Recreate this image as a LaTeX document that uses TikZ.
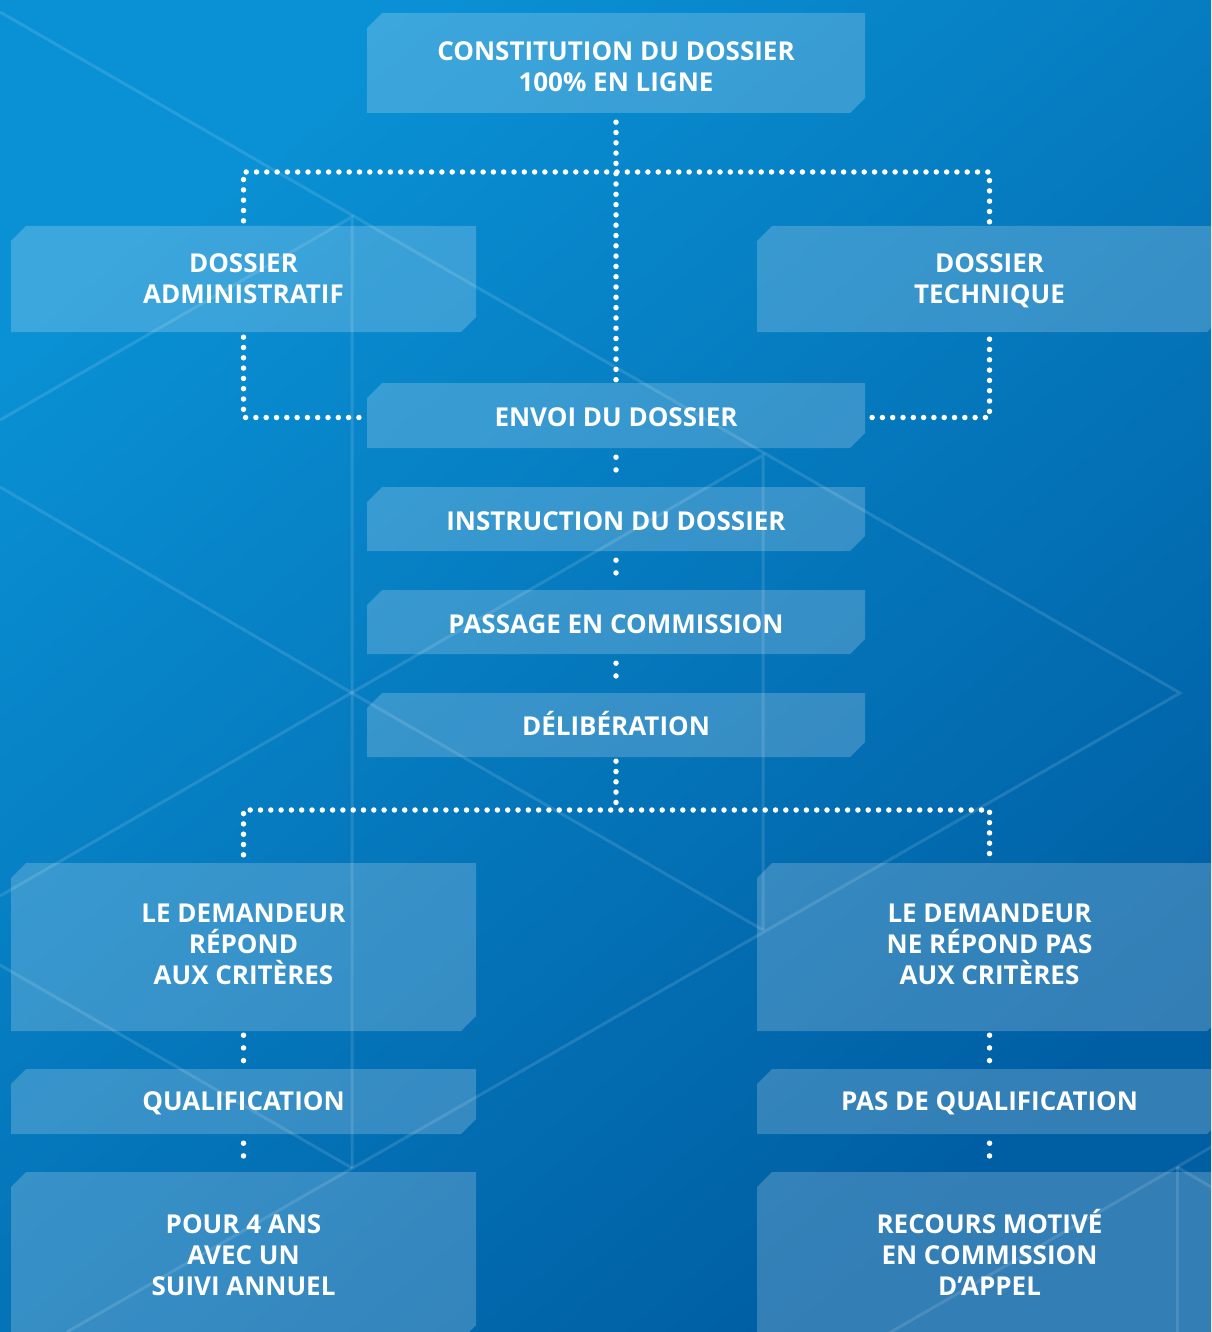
\documentclass[tikz,border=0pt]{standalone}
\usepackage{fontspec}
\setmainfont{Open Sans}
\usetikzlibrary{calc}
\definecolor{bgA}{HTML}{0A91D5}
\definecolor{bgB}{HTML}{005EA3}
\tikzset{
  boxfill/.style={fill=white, fill opacity=0.2},
  boxtext/.style={text=white, font=\bfseries\fontsize{26}{31}\selectfont, align=center, inner sep=0pt},
  dots/.style={draw=white, line width=5.5pt, line cap=round, dash pattern=on 0pt off 10.3pt, shorten <=5pt, shorten >=5pt},
  shortdots/.style={dots, dash pattern=on 0pt off 12.7pt, shorten <=7pt, shorten >=7pt},
  bgline/.style={draw=white, draw opacity=0.12, line width=3pt},
}
% #1 = vertical text shift (pt, positive = up), #2 name, #3-#6 x1 y1 x2 y2, #7 text
\newcommand\chbox[7][0]{%
  \fill[boxfill] ({#3+15},#4) -- (#5,#4) -- (#5,{#6-15}) -- ({#5-15},#6) -- (#3,#6) -- (#3,{#4+15}) -- cycle;
  \node[boxtext, minimum width={(#5-#3)*1pt}, minimum height={(#6-#4)*1pt}, yshift=#1pt] (#2) at ({(#3+#5)/2},{(#4+#6)/2}) {#7};
}
\begin{document}
\begin{tikzpicture}[x=1pt, y=-1pt]
\useasboundingbox (0,0) rectangle (1211,1332);
\clip (0,0) rectangle (1211,1332);
% background
\shade[top color=bgA, bottom color=bgB, shading angle=40] (0,0) rectangle (1211,1332);
% background wireframe
\draw[bgline] (0,12) -- (1180,693) -- (67,1332);
\draw[bgline] (0,420) -- (352,217) -- (352,1168);
\draw[bgline] (0,487) -- (352,693) -- (763,930);
\draw[bgline] (0,896) -- (763,455) -- (763,930);
\draw[bgline] (0,965) -- (352,1168);
\draw[bgline] (1230,1136) -- (1177,1167) -- (870,1344);
\draw[bgline] (1177,1167) -- (1230,1198);
\draw[bgline] (1177,1167) -- (1177,1340);
% boxes
\chbox[-4]{top}{367}{13}{865}{113}{CONSTITUTION DU DOSSIER\\100\% EN LIGNE}
\chbox{admin}{11}{226}{476}{332}{DOSSIER\\ADMINISTRATIF}
\chbox[-2]{tech}{757}{226}{1222}{332}{DOSSIER\\TECHNIQUE}
\chbox[-2]{envoi}{367}{383}{865}{448}{ENVOI DU DOSSIER}
\chbox[-2]{instr}{367}{487}{865}{551}{INSTRUCTION DU DOSSIER}
\chbox[-2]{pass}{367}{590}{865}{654}{PASSAGE EN COMMISSION}
\chbox[1]{delib}{367}{693}{865}{757}{DÉLIBÉRATION}
\chbox[3]{oui}{11}{863}{476}{1031}{LE DEMANDEUR\\RÉPOND\\AUX CRITÈRES}
\chbox[3]{non}{757}{863}{1222}{1031}{LE DEMANDEUR\\NE RÉPOND PAS\\AUX CRITÈRES}
\chbox[-2]{qual}{11}{1069}{476}{1134}{QUALIFICATION}
\chbox[-2]{pasqual}{757}{1069}{1222}{1134}{PAS DE QUALIFICATION}
\chbox[1]{quatre}{11}{1172}{476}{1340}{POUR 4 ANS\\AVEC UN\\SUIVI ANNUEL}
\chbox[4]{recours}{757}{1172}{1222}{1340}{RECOURS MOTIVÉ\\EN COMMISSION\\D’APPEL}
% connectors
\coordinate (bus1) at (616,172);
\coordinate (bus2) at (616,810);
\draw[dots] (top.south) -- (envoi.north);
\draw[dots] (admin.north) |- (bus1) -| (tech.north);
\draw[dots] (admin.south) |- (envoi.west);
\draw[dots] (tech.south) |- (envoi.east);
\draw[shortdots] (envoi.south) -- (instr.north);
\draw[shortdots] (instr.south) -- (pass.north);
\draw[shortdots] (pass.south) -- (delib.north);
\draw[dots] (delib.south) -- (bus2);
\draw[dots] (oui.north) |- (bus2) -| (non.north);
\draw[shortdots] (oui.south) -- (qual.north);
\draw[shortdots] (qual.south) -- (quatre.north);
\draw[shortdots] (non.south) -- (pasqual.north);
\draw[shortdots] (pasqual.south) -- (recours.north);
\end{tikzpicture}
\end{document}
